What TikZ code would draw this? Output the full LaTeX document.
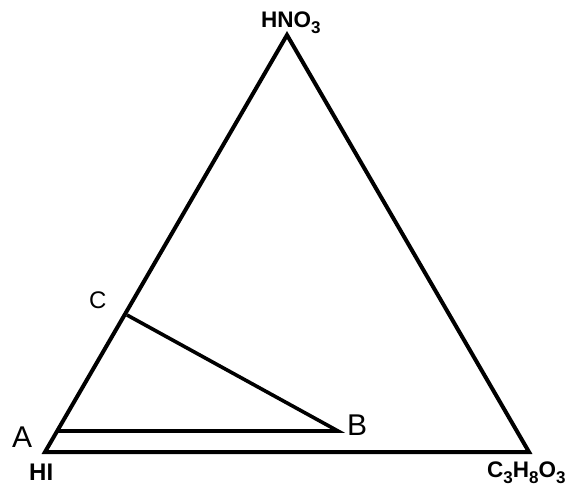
\documentclass[tikz,border=0pt]{standalone}
\usepackage{fontspec}
\setmainfont{Liberation Sans}
\newcommand{\sbs}[1]{\raisebox{-6pt}{\fontsize{17}{17}\selectfont #1}}
\begin{document}
\begin{tikzpicture}[x=1pt,y=-1pt,
  edge/.style={line width=4pt,line join=miter},
  inner/.style={line width=3.6pt},
  blab/.style={inner sep=0pt,anchor=base west,font=\bfseries\fontsize{22.5}{22.5}\selectfont},
  plab/.style={inner sep=0pt,anchor=base west,font=\fontsize{30}{30}\selectfont}]
\useasboundingbox (0,0) rectangle (575,493);
\coordinate (top) at (287,35);
\coordinate (hi) at (45,452);
\coordinate (gl) at (529,452);
\coordinate (a) at (57,431);
\coordinate (b) at (338,431);
\coordinate (c) at (127,315);
\draw[edge] (top) -- (gl) -- (hi) -- cycle;
\draw[inner] (a) -- (b) -- (c);
\node[blab] (lhno) at (261,27) {HNO\sbs{3}};
\node[blab,font=\bfseries\fontsize{24}{24}\selectfont] (lhi) at (29,480) {HI};
\node[blab] (lgl) at (487,477) {C\sbs{3}H\sbs{8}O\sbs{3}};
\node[plab] (la) at (12,447) {A};
\node[plab] (lb) at (347,435) {B};
\node[plab,font=\fontsize{24}{24}\selectfont] (lc) at (89,308) {C};
\end{tikzpicture}
\end{document}
